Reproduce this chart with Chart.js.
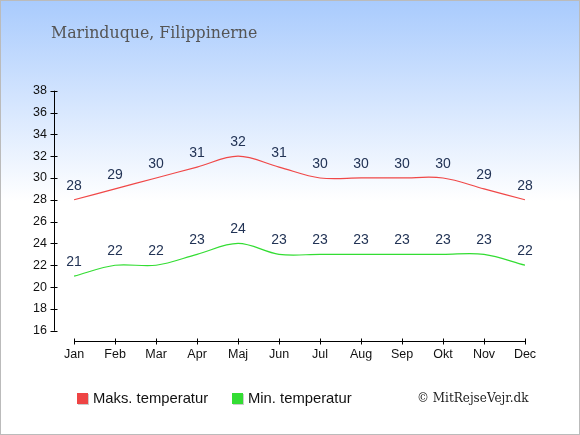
<!DOCTYPE html>
<html>
<head>
<meta charset="utf-8">
<script src="https://cdn.jsdelivr.net/npm/chart.js@4.4.0/dist/chart.umd.min.js"></script>
<style>
html,body{margin:0;padding:0;background:#fff;}
#wrap{position:relative;width:580px;height:435px;box-sizing:border-box;border:1px solid #bbb;
background:linear-gradient(to bottom,#a9cbfd 0px,#ffffff 200px,#ffffff 435px);}
canvas{position:absolute;left:-1px;top:-1px;}
</style>
</head>
<body>
<div id="wrap"><canvas id="c" width="580" height="435"></canvas></div>
<script>
const months = ["Jan","Feb","Mar","Apr","Maj","Jun","Jul","Aug","Sep","Okt","Nov","Dec"];
const maxTemp = [28,29,30,31,32,31,30,30,30,30,29,28];
const minTemp = [21,22,22,23,24,23,23,23,23,23,23,22];
const yTicks = [16,18,20,22,24,26,28,30,32,34,36,38];
const titleText = "Marinduque, Filippinerne";
const maxLabel = "Maks. temperatur";
const minLabel = "Min. temperatur";
const copyright = "\u00A9 MitRejseVejr.dk";

const RED = "#f04848", GREEN = "#33dd33";

const customPlugin = {
  id: 'custom',
  afterDatasetsDraw(chart) {
    const ctx = chart.ctx, ca = chart.chartArea;
    const xs = chart.scales.x, ys = chart.scales.y;
    ctx.save();
    ctx.strokeStyle = "#000"; ctx.lineWidth = 1;
    // y axis
    const ax = Math.round(ca.left) + 0.5;
    ctx.beginPath();
    ctx.moveTo(ax, ys.getPixelForValue(38)); ctx.lineTo(ax, ys.getPixelForValue(16));
    yTicks.forEach(v => { const y = Math.round(ys.getPixelForValue(v)) + 0.5; ctx.moveTo(ax - 4, y); ctx.lineTo(ax + 3, y); });
    ctx.stroke();
    // x axis
    const ay = Math.round(ca.bottom + 10) + 0.5;
    ctx.beginPath();
    ctx.moveTo(xs.getPixelForValue(0), ay); ctx.lineTo(xs.getPixelForValue(11), ay);
    months.forEach((m, i) => { const x = Math.round(xs.getPixelForValue(i)) + 0.5; ctx.moveTo(x, ay - 3); ctx.lineTo(x, ay + 3); });
    ctx.stroke();
    // data labels
    ctx.fillStyle = "#223355";
    ctx.font = "14px 'Liberation Sans', Arial, sans-serif";
    ctx.textAlign = "center"; ctx.textBaseline = "middle";
    chart.data.datasets.forEach((ds, di) => {
      ds.data.forEach(p => {
        ctx.fillText(String(p.y), xs.getPixelForValue(p.x), ys.getPixelForValue(p.y) - 14);
      });
    });
    // title
    ctx.fillStyle = "#555";
    ctx.font = "15.8px 'DejaVu Serif', serif";
    ctx.textAlign = "left"; ctx.textBaseline = "alphabetic";
    ctx.fillText(titleText, 51, 38);
    // legend
    const items = [[maxLabel, RED, 77], [minLabel, GREEN, 232]];
    ctx.font = "14.8px 'Liberation Sans', Arial, sans-serif";
    ctx.textBaseline = "middle";
    items.forEach(([t, c, x]) => {
      ctx.fillStyle = "#ccc"; ctx.fillRect(x + 1, 394, 11, 11);
      ctx.fillStyle = c === RED ? "#ee4444" : "#33dd33"; ctx.fillRect(x, 393, 11, 11);
      ctx.fillStyle = "#111"; ctx.fillText(t, x + 16, 399);
    });
    ctx.font = "12px 'DejaVu Serif', serif";
    ctx.fillStyle = "#222";
    ctx.fillText(copyright, 417, 399);
    ctx.restore();
  }
};

new Chart(document.getElementById('c'), {
  type: 'line',
  data: {
    datasets: [
      { label: maxLabel, data: maxTemp.map((v, i) => ({x: i, y: v})), borderColor: RED, borderWidth: 1.2, pointRadius: 0, tension: 0.35, fill: false },
      { label: minLabel, data: minTemp.map((v, i) => ({x: i, y: v})), borderColor: GREEN, borderWidth: 1.2, pointRadius: 0, tension: 0.35, fill: false }
    ]
  },
  options: {
    responsive: false,
    animation: false,
    layout: { padding: { left: 0, top: 90.7, right: 55, bottom: 74.3 } },
    plugins: { legend: { display: false }, title: { display: false }, tooltip: { enabled: false } },
    scales: {
      x: {
        type: 'linear', min: -0.49, max: 11,
        afterBuildTicks(s) { s.ticks = months.map((m, i) => ({ value: i })); },
        afterFit(s) { s.height = 30; },
        grid: { display: false, drawTicks: false }, border: { display: false },
        ticks: { autoSkip: false, maxRotation: 0, padding: 16, color: "#111",
          font: { family: "'Liberation Sans', Arial, sans-serif", size: 12.5 },
          callback: (v) => months[v] }
      },
      y: {
        min: 16, max: 38,
        afterBuildTicks(s) { s.ticks = yTicks.map(v => ({ value: v })); },
        afterFit(s) { s.width = 54; },
        grid: { display: false, drawTicks: false }, border: { display: false },
        ticks: { padding: 7, color: "#111", font: { family: "'Liberation Sans', Arial, sans-serif", size: 12.5 } }
      }
    }
  },
  plugins: [customPlugin]
});
</script>
</body>
</html>
